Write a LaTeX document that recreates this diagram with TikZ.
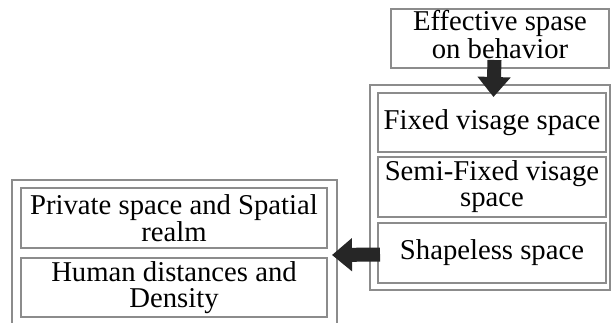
\documentclass[tikz,border=0pt]{standalone}
\usepackage{fontspec}
\setmainfont{Liberation Serif}
\usetikzlibrary{arrows.meta}
\begin{document}
\begin{tikzpicture}[x=1pt,y=-1pt,
  boxline/.style={draw=black!45,line width=1.1pt},
  frame/.style={boxline,fill=none,inner sep=0pt,outer sep=0pt},
  textbox/.style={boxline,inner sep=0pt,outer sep=0pt,align=center,
    font=\fontsize{28.7pt}{26pt}\selectfont,text=black},
  fatarrow/.style={draw=black!85,line width=14pt,
    -{Triangle[width=32pt,length=20pt]}}]
\useasboundingbox (0,0) rectangle (611,322);
\clip (0,0) rectangle (611,322);
\fill[white] (0,0) rectangle (611,322);
% containers
\node[frame,minimum width=240pt,minimum height=205pt] (rcont) at (490,187.5) {};
\node[frame,minimum width=325pt,minimum height=150pt] (lcont) at (174.5,255) {};
% boxes
\node[textbox,minimum width=218pt,minimum height=59pt] (top) at (500,38.5) {\raisebox{3pt}{\begin{tabular}{@{}c@{}}Effective spase\\on behavior\end{tabular}}};
\node[textbox,minimum width=228pt,minimum height=59pt] (fixed) at (492,122.5) {Fixed visage space};
\node[textbox,minimum width=228pt,minimum height=60pt] (semi) at (492,187) {Semi-Fixed visage\\space};
\node[textbox,minimum width=228pt,minimum height=60pt] (shapeless) at (492,253) {Shapeless space};
\node[textbox,minimum width=306pt,minimum height=60pt] (private) at (174,218) {Private space and Spatial\\realm};
\node[textbox,minimum width=306pt,minimum height=59pt] (human) at (174,287.5) {Human distances and\\Density};
% arrows
\draw[fatarrow] ([xshift=-5.5pt,yshift=8pt]top.south) -- ([xshift=1.5pt,yshift=-4pt]fixed.north);
\draw[fatarrow] ([xshift=2pt,yshift=-1.5pt]shapeless.west) -- ([xshift=-5pt]lcont.east);
\end{tikzpicture}
\end{document}
